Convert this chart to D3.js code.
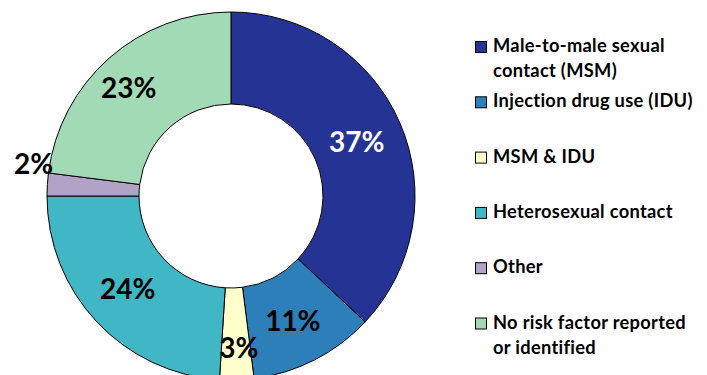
<!DOCTYPE html>
<html>
<head>
<meta charset="utf-8">
<script src="https://cdn.jsdelivr.net/npm/d3@7"></script>
<style>
  html, body { margin: 0; padding: 0; background: #fff; }
  svg { display: block; }
  text { font-family: Lato, "Open Sans", sans-serif; font-weight: bold; }
</style>
</head>
<body>
<svg id="chart" width="707" height="375"></svg>
<script>
// Transmission categories, shares (%) and slice colours
const categories = [
  "Male-to-male sexual contact (MSM)",
  "Injection drug use (IDU)",
  "MSM & IDU",
  "Heterosexual contact",
  "Other",
  "No risk factor reported or identified"
];
const shares = [37, 11, 3, 24, 2, 23];
const legendLines = [
  ["Male-to-male sexual", "contact (MSM)"],
  ["Injection drug use (IDU)"],
  ["MSM & IDU"],
  ["Heterosexual contact"],
  ["Other"],
  ["No risk factor reported", "or identified"]
];
const colors = ["#253494", "#2c7fb8", "#ffffcc", "#41b6c4", "#b3a2c7", "#a1dab4"];

const svg = d3.select("#chart");
const cx = 231, cy = 196, outerR = 184, innerR = 92;

const pie = d3.pie().sort(null).value(d => d)(shares);
const arc = d3.arc().innerRadius(innerR).outerRadius(outerR);

const g = svg.append("g").attr("transform", `translate(${cx},${cy})`);

g.selectAll("path.slice")
  .data(pie)
  .join("path")
  .attr("class", "slice")
  .attr("d", arc)
  .attr("fill", (d, i) => colors[i])
  .attr("stroke", "#000")
  .attr("stroke-width", 1);

// Label placement: radius from centre and a small angular nudge (radians)
const labelRadius = [137, 139, 152, 139, 200, 149];
const labelNudge = [0, 0.01, -0.02, 0.02, 0.1, -0.035];
const fontSize = 28;

g.selectAll("text.pct")
  .data(pie)
  .join("text")
  .attr("class", "pct")
  .attr("text-anchor", "middle")
  .attr("font-size", fontSize)
  .attr("fill", (d, i) => i === 0 ? "#fff" : "#000")
  .attr("x", (d, i) => {
    const a = (d.startAngle + d.endAngle) / 2 + labelNudge[i];
    return Math.sin(a) * labelRadius[i];
  })
  .attr("y", (d, i) => {
    const a = (d.startAngle + d.endAngle) / 2 + labelNudge[i];
    return -Math.cos(a) * labelRadius[i] + fontSize * 0.36;
  })
  .text(d => d.data + "%");

// Legend
const legendX = 475, legendTop = 52, rowStep = 55.3, lineStep = 25, sq = 11;
const legend = svg.append("g");
const rows = legend.selectAll("g.row")
  .data(categories)
  .join("g")
  .attr("class", "row")
  .attr("transform", (d, i) => `translate(${legendX},${legendTop + i * rowStep})`);

rows.append("rect")
  .attr("x", 0.5)
  .attr("y", -sq + 0.5)
  .attr("width", sq)
  .attr("height", sq)
  .attr("fill", (d, i) => colors[i])
  .attr("stroke", "#000")
  .attr("stroke-width", 1);

rows.append("text")
  .attr("x", 18)
  .attr("y", 0)
  .attr("font-size", 18.3)
  .attr("letter-spacing", 0.3)
  .attr("fill", "#000")
  .selectAll("tspan")
  .data((d, i) => legendLines[i])
  .join("tspan")
  .attr("x", 18)
  .attr("dy", (d, j) => j === 0 ? 0 : lineStep)
  .text(d => d);
</script>
</body>
</html>
